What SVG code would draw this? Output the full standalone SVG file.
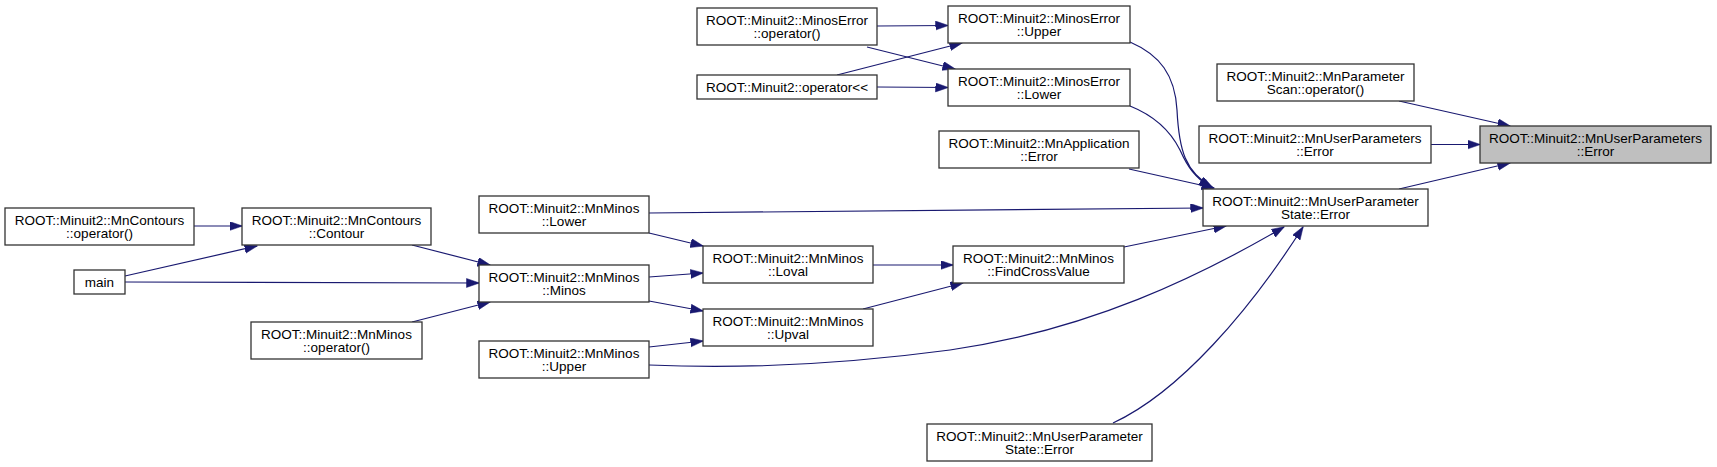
<svg xmlns="http://www.w3.org/2000/svg" width="1717" height="467" viewBox="0 0 1717 467">
<style>
.n rect{fill:#ffffff;stroke:#333333;stroke-width:1.3}
.n.hl rect{fill:#bfbfbf}
.n text{font-family:"Liberation Sans",Arial,Helvetica,sans-serif;font-size:13.5px;fill:#000000;text-anchor:middle}
.e path{fill:none;stroke:#191970;stroke-width:1.2;marker-end:url(#ah)}
</style>
<defs>
<marker id="ah" markerUnits="userSpaceOnUse" markerWidth="14" markerHeight="10" refX="12.5" refY="4.5" orient="auto">
<path d="M0,0 L13,4.5 L0,9 z" fill="#191970" stroke="#191970" stroke-width="0.5"/>
</marker>
</defs>
<rect width="1717" height="467" fill="#ffffff"/>
<g id="connectors" class="e">
<path d="M1399,101 L1510,126"/>
<path d="M1431,144.5 L1480,144.5"/>
<path d="M1399,189 L1510,163"/>
<path d="M1130,42 C1160,55 1175,75 1177,110 C1179,150 1185,172 1213,188"/>
<path d="M1130,106 C1155,116 1170,130 1180,150 C1188,168 1195,177 1211,188"/>
<path d="M1129,169 L1214,188"/>
<path d="M649,213 L1203,208"/>
<path d="M1124,247 L1226,226"/>
<path d="M649,365 C760,370 860,362 950,350 C1090,330 1200,276 1284,227"/>
<path d="M1113,423 C1180,392 1250,310 1303,227"/>
<path d="M877,26 L948,25.5"/>
<path d="M867,47 L955,69"/>
<path d="M837,75 L962,43"/>
<path d="M877,87 L948,87.5"/>
<path d="M412,245 L490,265"/>
<path d="M125,282 L479,283"/>
<path d="M412,322 L490,302"/>
<path d="M194,226 L242,226"/>
<path d="M125,276 L257,246"/>
<path d="M649,233 L703,246"/>
<path d="M649,277 L703,273"/>
<path d="M649,301 L703,311"/>
<path d="M649,347 L703,341"/>
<path d="M873,265 L953,265"/>
<path d="M863,309 L963,283"/>
</g>
<g id="n_hl" class="n hl"><rect x="1480" y="126" width="231" height="37"/><text x="1595.5" y="142.6">ROOT::Minuit2::MnUserParameters</text><text x="1595.5" y="156">::Error</text></g>
<g id="n_scan" class="n"><rect x="1217" y="64" width="197" height="37"/><text x="1315.5" y="80.6">ROOT::Minuit2::MnParameter</text><text x="1315.5" y="94">Scan::operator()</text></g>
<g id="n_upe" class="n"><rect x="1199" y="126" width="232" height="37"/><text x="1315" y="142.6">ROOT::Minuit2::MnUserParameters</text><text x="1315" y="156">::Error</text></g>
<g id="n_use" class="n"><rect x="1203" y="189" width="225" height="37"/><text x="1315.5" y="205.6">ROOT::Minuit2::MnUserParameter</text><text x="1315.5" y="219">State::Error</text></g>
<g id="n_meu" class="n"><rect x="948" y="6" width="182" height="37"/><text x="1039" y="22.6">ROOT::Minuit2::MinosError</text><text x="1039" y="36">::Upper</text></g>
<g id="n_mel" class="n"><rect x="948" y="69" width="182" height="37"/><text x="1039" y="85.6">ROOT::Minuit2::MinosError</text><text x="1039" y="99">::Lower</text></g>
<g id="n_app" class="n"><rect x="939" y="131" width="200" height="37"/><text x="1039" y="147.6">ROOT::Minuit2::MnApplication</text><text x="1039" y="161">::Error</text></g>
<g id="n_fcv" class="n"><rect x="953" y="246" width="171" height="37"/><text x="1038.5" y="262.6">ROOT::Minuit2::MnMinos</text><text x="1038.5" y="276">::FindCrossValue</text></g>
<g id="n_use2" class="n"><rect x="927" y="424" width="225" height="37"/><text x="1039.5" y="440.6">ROOT::Minuit2::MnUserParameter</text><text x="1039.5" y="454">State::Error</text></g>
<g id="n_meop" class="n"><rect x="697" y="8" width="180" height="37"/><text x="787" y="24.6">ROOT::Minuit2::MinosError</text><text x="787" y="38">::operator()</text></g>
<g id="n_ops" class="n"><rect x="697" y="75" width="180" height="24"/><text x="787" y="91.8">ROOT::Minuit2::operator&lt;&lt;</text></g>
<g id="n_loval" class="n"><rect x="703" y="246" width="170" height="37"/><text x="788" y="262.6">ROOT::Minuit2::MnMinos</text><text x="788" y="276">::Loval</text></g>
<g id="n_upval" class="n"><rect x="703" y="309" width="170" height="37"/><text x="788" y="325.6">ROOT::Minuit2::MnMinos</text><text x="788" y="339">::Upval</text></g>
<g id="n_lower" class="n"><rect x="479" y="196" width="170" height="37"/><text x="564" y="212.6">ROOT::Minuit2::MnMinos</text><text x="564" y="226">::Lower</text></g>
<g id="n_minos" class="n"><rect x="479" y="265" width="170" height="37"/><text x="564" y="281.6">ROOT::Minuit2::MnMinos</text><text x="564" y="295">::Minos</text></g>
<g id="n_upper" class="n"><rect x="479" y="341" width="170" height="37"/><text x="564" y="357.6">ROOT::Minuit2::MnMinos</text><text x="564" y="371">::Upper</text></g>
<g id="n_contour" class="n"><rect x="242" y="208" width="189" height="37"/><text x="336.5" y="224.6">ROOT::Minuit2::MnContours</text><text x="336.5" y="238">::Contour</text></g>
<g id="n_mnminosop" class="n"><rect x="251" y="322" width="171" height="37"/><text x="336.5" y="338.6">ROOT::Minuit2::MnMinos</text><text x="336.5" y="352">::operator()</text></g>
<g id="n_mncop" class="n"><rect x="5" y="208" width="189" height="37"/><text x="99.5" y="224.6">ROOT::Minuit2::MnContours</text><text x="99.5" y="238">::operator()</text></g>
<g id="n_main" class="n"><rect x="74" y="270" width="51" height="24"/><text x="99.5" y="286.8">main</text></g>
</svg>
